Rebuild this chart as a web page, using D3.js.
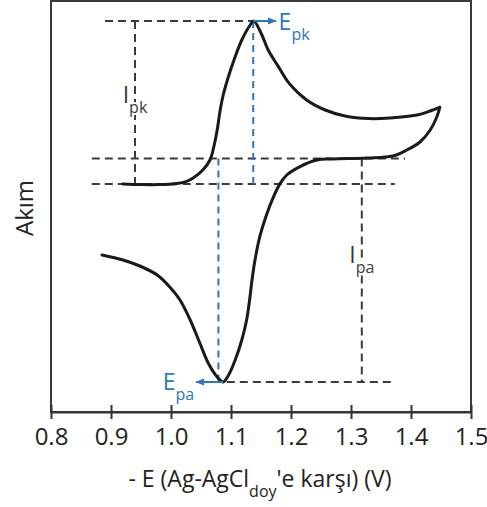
<!DOCTYPE html>
<meta charset="utf-8">
<style type="text/css">
  body {
    margin: 0;
    background: #fff;
  }

  text {
    font-family: "Open Sans", "Noto Sans", sans-serif;
  }

  .curve {
    fill: none;
    stroke: #1a1a1a;
    stroke-width: 3;
    stroke-linejoin: round;
    stroke-linecap: round;
  }

  .guide {
    fill: none;
    stroke: #3a3a3a;
    stroke-width: 2;
    stroke-dasharray: 8 5;
  }

  .guide.blue {
    stroke: #2b78c0;
    stroke-dasharray: 7 5;
  }

  .xaxis path,
  .xaxis line {
    stroke: #333;
    stroke-width: 2;
  }

  .xaxis text {
    font-size: 24px;
    fill: #222;
  }
</style>

<body>
</body>
<script src="https://d3js.org/d3.v7.min.js"></script>
<script>
  // Cyclic voltammogram, potential (V) vs current (arbitrary units)

  // forward scan (upper branch)
  var fwdV = [0.92, 0.95, 0.98, 1.01, 1.025, 1.037, 1.053, 1.065, 1.072, 1.077, 1.082, 1.087, 1.095, 1.105,
    1.118, 1.132, 1.138, 1.15, 1.162, 1.179, 1.197, 1.226, 1.257, 1.29, 1.33, 1.365, 1.41, 1.432, 1.448];
  var fwdI = [0, -0.03, -0.03, 0.03, 0.12, 0.3, 0.7, 1.2, 1.95, 2.7, 3.7, 4.45, 5.3, 6.2,
    7.2, 7.95, 8.15, 7.55, 6.7, 5.87, 5.03, 4.2, 3.7, 3.4, 3.27, 3.3, 3.45, 3.65, 3.83];

  // reverse scan (lower branch)
  var revV = [1.448, 1.443, 1.432, 1.415, 1.393, 1.37, 1.327, 1.27, 1.243, 1.215, 1.193, 1.182, 1.171,
    1.16, 1.148, 1.14, 1.135, 1.131, 1.126, 1.118, 1.107, 1.096, 1.087, 1.077, 1.062, 1.048, 1.032,
    1.015, 0.998, 0.977, 0.948, 0.92, 0.885];
  var revI = [3.83, 3.35, 2.7, 2.1, 1.7, 1.4, 1.3, 1.25, 1.2, 0.87, 0.45, 0.03, -0.63,
    -1.47, -2.63, -3.8, -4.8, -5.8, -6.8, -7.8, -8.8, -9.55, -9.9, -9.65, -8.95, -7.95, -6.8,
    -5.8, -5.15, -4.55, -4.1, -3.8, -3.55];

  var xTicks = [0.8, 0.9, 1.0, 1.1, 1.2, 1.3, 1.4, 1.5];

  // peak values used by the guide lines
  var Epk = 1.137, Ipk = 8.15, baseK = 0;
  var Epa = 1.079, Ipa = -9.9, baseA = 1.28, EpaMin = 1.087;

  var margin = {
      top: 1,
      right: 16,
      bottom: 95,
      left: 51
    },
    width = 487 - margin.left - margin.right,
    height = 507 - margin.top - margin.bottom;

  var xScale = d3.scaleLinear()
    .domain([0.8, 1.5])
    .range([0, width]);

  var yScale = d3.scaleLinear()
    .domain([-11.4, 9.15])
    .range([height, 0]);

  var line = d3.line()
    .x(function(d) { return xScale(d[0]); })
    .y(function(d) { return yScale(d[1]); })
    .curve(d3.curveCatmullRom.alpha(0.5));

  var svg = d3.select("body").append("svg")
    .attr("width", 487)
    .attr("height", 507);

  var defs = svg.append("defs");
  defs.append("marker")
    .attr("id", "arrow")
    .attr("viewBox", "0 0 10 10")
    .attr("refX", 9)
    .attr("refY", 5)
    .attr("markerUnits", "userSpaceOnUse")
    .attr("markerWidth", 9)
    .attr("markerHeight", 9)
    .attr("orient", "auto")
    .append("path")
    .attr("d", "M0,1 L10,5 L0,9 z")
    .attr("fill", "#2b78c0");

  var g = svg.append("g")
    .attr("transform", "translate(" + margin.left + "," + margin.top + ")");

  // frame
  g.append("rect")
    .attr("width", width)
    .attr("height", height)
    .attr("fill", "none")
    .attr("stroke", "#3a3a3a")
    .attr("stroke-width", 2);

  // x axis, ticks cross the line
  var xAxis = g.append("g")
    .attr("class", "xaxis")
    .attr("transform", "translate(0," + height + ")")
    .call(d3.axisBottom(xScale)
      .tickValues(xTicks)
      .tickFormat(d3.format(".1f"))
      .tickSize(7)
      .tickSizeOuter(0)
      .tickPadding(9));
  xAxis.selectAll(".tick line").attr("y1", -7);

  // gray guides
  var guides = [
    [[0.89, Ipk], [Epk, Ipk]],
    [[0.94, Ipk], [0.94, baseK]],
    [[0.868, baseA], [1.39, baseA]],
    [[0.868, baseK], [1.373, baseK]],
    [[1.318, baseA], [1.318, Ipa]],
    [[1.093, Ipa], [1.37, Ipa]]
  ];
  g.selectAll(".guide.gray")
    .data(guides)
    .enter().append("path")
    .attr("class", "guide gray")
    .attr("d", d3.line().x(function(d) { return xScale(d[0]); }).y(function(d) { return yScale(d[1]); }));

  // blue guides
  var blueGuides = [
    [[Epk, Ipk], [Epk, baseK]],
    [[Epa, baseA], [Epa, Ipa]]
  ];
  g.selectAll(".guide.blue")
    .data(blueGuides)
    .enter().append("path")
    .attr("class", "guide blue")
    .attr("d", d3.line().x(function(d) { return xScale(d[0]); }).y(function(d) { return yScale(d[1]); }));

  // the curve
  g.append("path")
    .datum(d3.zip(fwdV, fwdI))
    .attr("class", "curve")
    .attr("d", line);
  g.append("path")
    .datum(d3.zip(revV, revI))
    .attr("class", "curve")
    .attr("d", line);

  // arrows at the peaks
  g.append("line")
    .attr("x1", xScale(Epk)).attr("y1", yScale(Ipk))
    .attr("x2", xScale(1.175)).attr("y2", yScale(Ipk))
    .attr("stroke", "#2b78c0").attr("stroke-width", 2)
    .attr("marker-end", "url(#arrow)");
  g.append("line")
    .attr("x1", xScale(EpaMin)).attr("y1", yScale(Ipa))
    .attr("x2", xScale(1.042)).attr("y2", yScale(Ipa))
    .attr("stroke", "#2b78c0").attr("stroke-width", 2)
    .attr("marker-end", "url(#arrow)");

  // labels with subscripts
  function label(x, y, main, sub, color, anchor) {
    var t = g.append("text")
      .attr("x", x)
      .attr("y", y)
      .attr("fill", color)
      .attr("text-anchor", anchor)
      .attr("font-size", 23)
      .attr("stroke", "#fff")
      .attr("stroke-width", 4)
      .attr("paint-order", "stroke");
    t.append("tspan").text(main);
    t.append("tspan").attr("dy", 10).attr("font-size", 16).text(sub);
    return t;
  }

  label(xScale(0.94), yScale(4.05), "I", "pk", "#3a3a3a", "middle");
  label(xScale(1.318), yScale(-3.95), "I", "pa", "#3a3a3a", "middle");
  label(xScale(1.186) - 4, yScale(Ipk) + 9, "E", "pk", "#2b78c0", "start");
  label(xScale(1.042) - 2, yScale(Ipa) + 8, "E", "pa", "#2b78c0", "end");

  // axis titles
  var xt = svg.append("text")
    .attr("x", 260)
    .attr("y", 487)
    .attr("text-anchor", "middle")
    .attr("font-size", 23)
    .attr("fill", "#222");
  xt.append("tspan").text("- E (Ag-AgCl");
  xt.append("tspan").attr("dy", 10).attr("font-size", 16).text("doy");
  xt.append("tspan").attr("dy", -10).text("'e karşı) (V)");

  svg.append("text")
    .attr("transform", "translate(33,208) rotate(-90)")
    .attr("text-anchor", "middle")
    .attr("font-size", 24)
    .attr("fill", "#222")
    .text("Akım");
</script>
